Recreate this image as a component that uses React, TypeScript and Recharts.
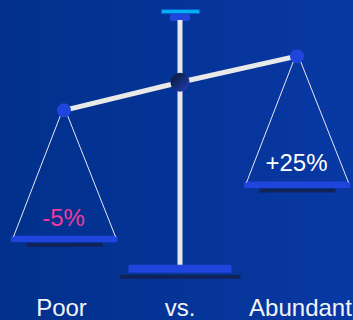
import {
  ComposedChart,
  LabelList,
  Line,
  ReferenceArea,
  XAxis,
  YAxis,
} from "recharts";

const categories = ["Poor", "vs.", "Abundant"];
const categoryTicks = [61.5, 180, 300.5];

// Scale geometry in axis units: x runs 0-353, y runs 0-319 downwards
const beamXs = [64, 180, 297];
const beamYs = [110, 82, 56];
const postXs = [180, 180];
const postYs = [20, 264];
const pivotXs = [180];
const pivotYs = [82];

const leftCordXs = [[60.5, 13.5], [67.5, 115.5]];
const rightCordXs = [[293.5, 246.5], [300.5, 348.5]];
const leftCordYs = [115, 236];
const rightCordYs = [61, 182];

const changeLabels = ["-5%", "+25%"];
const changeXs = [63.5, 296.5];
const changeYs = [216.5, 162];

const toPoints = (xs: number[], ys: number[]) =>
  xs.map((x, i) => ({ x, y: ys[i] }));

const WHITE = "#e9e9e9";
const BLUE = "#1f45dd";
const SHADOW = "#0e2458";

export default function App() {
  return (
    <div
      style={{
        position: "absolute",
        left: 0,
        top: 0,
        width: 353,
        height: 320,
        background: "linear-gradient(90deg, #02308c 0%, #0838a3 100%)",
      }}
    >
      <ComposedChart
        width={353}
        height={320}
        margin={{ top: 0, right: 0, bottom: 0, left: 0 }}
        style={{ fontFamily: "'Liberation Sans', Arial, sans-serif" }}
      >
        <defs>
          <linearGradient id="pivotFill" x1="0" y1="0" x2="1" y2="1">
            <stop offset="25%" stopColor="#0e2050" />
            <stop offset="95%" stopColor="#1f3fb8" />
          </linearGradient>
        </defs>
        <XAxis
          type="number"
          dataKey="x"
          domain={[0, 353]}
          ticks={categoryTicks}
          interval={0}
          tickFormatter={(_v: number, i: number) => categories[i]}
          axisLine={false}
          tickLine={false}
          mirror
          height={1}
          tick={{ fill: "#f2f4f8", fontSize: 24, dy: 4 }}
        />
        <YAxis type="number" dataKey="y" domain={[0, 319]} reversed hide width={0} />

        {/* stand base and its shadow */}
        <ReferenceArea x1={120} x2={240.5} y1={274} y2={278} fill={SHADOW} fillOpacity={1} />
        <ReferenceArea x1={128.5} x2={231.5} y1={264} y2={272} fill={BLUE} fillOpacity={1} />

        {/* pans with their shadows */}
        <ReferenceArea x1={26.5} x2={102.5} y1={242} y2={246} fill={SHADOW} fillOpacity={1} />
        <ReferenceArea x1={11} x2={117.5} y1={235} y2={241.5} fill={BLUE} fillOpacity={1} radius={2} />
        <ReferenceArea x1={259.5} x2={335.5} y1={188} y2={192} fill={SHADOW} fillOpacity={1} />
        <ReferenceArea x1={244} x2={350.5} y1={181} y2={187.5} fill={BLUE} fillOpacity={1} radius={2} />

        {/* cap on top of the post */}
        <ReferenceArea x1={170} x2={190} y1={13} y2={21} fill={BLUE} fillOpacity={1} radius={2} />
        <ReferenceArea x1={161.5} x2={199.5} y1={9.5} y2={13.5} fill="#00b0f0" fillOpacity={1} stroke="#0a5fd0" strokeWidth={1} />

        {leftCordXs.concat(rightCordXs).map((xs, i) => (
          <Line
            key={i}
            data={toPoints(xs, i < 2 ? leftCordYs : rightCordYs)}
            dataKey="y"
            stroke="#e6e8f0"
            strokeWidth={1}
            dot={false}
            activeDot={false}
            isAnimationActive={false}
          />
        ))}

        <Line
          data={toPoints(postXs, postYs)}
          dataKey="y"
          stroke={WHITE}
          strokeWidth={5}
          dot={false}
          activeDot={false}
          isAnimationActive={false}
        />
        <Line
          data={toPoints(beamXs, beamYs)}
          dataKey="y"
          stroke={WHITE}
          strokeWidth={5}
          dot={false}
          activeDot={false}
          isAnimationActive={false}
        />
        {/* beam end joints */}
        <Line
          data={toPoints([beamXs[0], beamXs[2]], [beamYs[0], beamYs[2]])}
          dataKey="y"
          stroke="none"
          dot={{ r: 7, fill: BLUE, stroke: "none" }}
          activeDot={false}
          isAnimationActive={false}
        />
        <Line
          data={toPoints(pivotXs, pivotYs)}
          dataKey="y"
          stroke="none"
          dot={{ r: 9.5, fill: "url(#pivotFill)", stroke: "none" }}
          activeDot={false}
          isAnimationActive={false}
        />

        <Line
          data={[{ x: changeXs[0], y: changeYs[0], label: changeLabels[0] }]}
          dataKey="y"
          stroke="none"
          dot={{ r: 0, stroke: "none" }}
          activeDot={false}
          isAnimationActive={false}
        >
          <LabelList dataKey="label" position="center" fill="#ee3a9c" fontSize={24} />
        </Line>
        <Line
          data={[{ x: changeXs[1], y: changeYs[1], label: changeLabels[1] }]}
          dataKey="y"
          stroke="none"
          dot={{ r: 0, stroke: "none" }}
          activeDot={false}
          isAnimationActive={false}
        >
          <LabelList dataKey="label" position="center" fill="#ffffff" fontSize={24} />
        </Line>
      </ComposedChart>
    </div>
  );
}
